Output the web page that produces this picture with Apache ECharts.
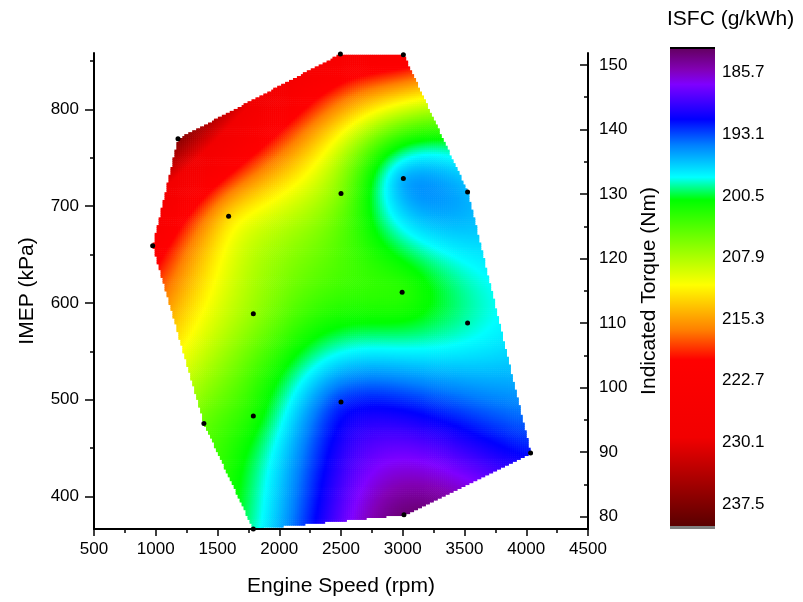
<!DOCTYPE html>
<html>
<head>
<meta charset="utf-8">
<title>ISFC map</title>
<script src="https://cdn.jsdelivr.net/npm/echarts@6/dist/echarts.min.js"></script>
<style>
  html, body { margin: 0; padding: 0; background: #fff; }
  #chart { width: 803px; height: 602px; }
</style>
</head>
<body>
<div id="chart"></div>
<script>
// Measured operating points: engine speed, IMEP and indicated specific fuel consumption
const speedRpm = [1180, 2495, 3005, 1590, 2500, 3005, 3525, 975, 1790, 2995, 3525, 1790, 1390, 2500, 4035, 3010, 1790];
const imepKpa  = [769.6, 857.2, 856.5, 689.5, 713.1, 728.5, 714.5, 659.0, 588.9, 611.0, 579.3, 483.2, 475.3, 497.5, 444.8, 381.1, 366.4];
const isfcGkWh = [237.0, 226.0, 223.5, 213.0, 206.0, 196.0, 196.0, 223.0, 207.0, 202.5, 199.0, 202.0, 205.0, 192.5, 191.5, 183.5, 199.0];

// Axis ticks
const speedTicks = [500, 1000, 1500, 2000, 2500, 3000, 3500, 4000, 4500];
const imepTicks = [400, 500, 600, 700, 800];
const imepMinorTicks = [450, 550, 650, 750, 850];
const torqueTicks = [80, 90, 100, 110, 120, 130, 140, 150];
const torqueMinorTicks = [85, 95, 105, 115, 125, 135, 145];
const scaleLabels = [185.7, 193.1, 200.5, 207.9, 215.3, 222.7, 230.1, 237.5];

// Colour scale range and palette stops (value, colour)
const scaleMin = 182.85, scaleMax = 240.15;
const paletteValues = [182.85, 185.3, 187.1, 191.3, 194.4, 198.25, 201.0, 211.2, 216.6, 220.2, 229.5, 240.15];
const paletteColors = ['#640064', '#8200b4', '#7f00ff', '#0000ff', '#0080ff', '#00ffff', '#00ff00', '#ffff00', '#ff8000', '#ff0000', '#f20000', '#5a0000'];

const FONT = "'Liberation Sans', Arial, Helvetica, sans-serif";

function hexToRgb(h) {
  return [parseInt(h.slice(1, 3), 16), parseInt(h.slice(3, 5), 16), parseInt(h.slice(5, 7), 16)];
}
const paletteRgb = paletteColors.map(hexToRgb);

function colorAt(v) {
  if (v <= paletteValues[0]) return paletteColors[0];
  const n = paletteValues.length;
  if (v >= paletteValues[n - 1]) return paletteColors[n - 1];
  let i = 0;
  while (v > paletteValues[i + 1]) i++;
  const t = (v - paletteValues[i]) / (paletteValues[i + 1] - paletteValues[i]);
  const a = paletteRgb[i], b = paletteRgb[i + 1];
  const c = [0, 1, 2].map(k => Math.round(a[k] + (b[k] - a[k]) * t));
  return 'rgb(' + c.join(',') + ')';
}

// Thin-plate spline surface through the measured points (scaled so both axes use similar units)
const SX = 0.0012311, SY = 0.00974;
function tpsKernel(r2) { return r2 <= 0 ? 0 : 0.5 * r2 * Math.log(r2); }

function solve(A, b) {
  const n = b.length;
  const M = A.map((row, i) => row.concat([b[i]]));
  for (let c = 0; c < n; c++) {
    let p = c;
    for (let r = c + 1; r < n; r++) if (Math.abs(M[r][c]) > Math.abs(M[p][c])) p = r;
    [M[c], M[p]] = [M[p], M[c]];
    for (let r = 0; r < n; r++) {
      if (r === c) continue;
      const f = M[r][c] / M[c][c];
      for (let k = c; k <= n; k++) M[r][k] -= f * M[c][k];
    }
  }
  return M.map((row, i) => row[n] / row[i]);
}

function buildSurface() {
  const n = speedRpm.length;
  const u = speedRpm.map(x => x * SX), w = imepKpa.map(y => y * SY);
  const N = n + 3;
  const A = [], rhs = [];
  for (let i = 0; i < N; i++) { A.push(new Array(N).fill(0)); rhs.push(0); }
  for (let i = 0; i < n; i++) {
    for (let j = 0; j < n; j++) {
      const dx = u[i] - u[j], dy = w[i] - w[j];
      A[i][j] = tpsKernel(dx * dx + dy * dy);
    }
    A[i][n] = 1; A[i][n + 1] = u[i]; A[i][n + 2] = w[i];
    A[n][i] = 1; A[n + 1][i] = u[i]; A[n + 2][i] = w[i];
    rhs[i] = isfcGkWh[i];
  }
  const coef = solve(A, rhs);
  return function (x, y) {
    const px = x * SX, py = y * SY;
    let s = coef[n] + coef[n + 1] * px + coef[n + 2] * py;
    for (let i = 0; i < n; i++) {
      const dx = px - u[i], dy = py - w[i];
      s += coef[i] * tpsKernel(dx * dx + dy * dy);
    }
    return s;
  };
}

// Convex hull of the measured points (monotone chain), in screen-proportional units
function hullOf(points) {
  const pts = points.slice().sort((a, b) => a[0] - b[0] || a[1] - b[1]);
  const cross = (o, a, b) => (a[0] - o[0]) * (b[1] - o[1]) - (a[1] - o[1]) * (b[0] - o[0]);
  const lower = [], upper = [];
  for (const p of pts) {
    while (lower.length >= 2 && cross(lower[lower.length - 2], lower[lower.length - 1], p) <= 0) lower.pop();
    lower.push(p);
  }
  for (let i = pts.length - 1; i >= 0; i--) {
    const p = pts[i];
    while (upper.length >= 2 && cross(upper[upper.length - 2], upper[upper.length - 1], p) <= 0) upper.pop();
    upper.push(p);
  }
  upper.pop(); lower.pop();
  return lower.concat(upper);
}
function insideHull(hull, p) {
  for (let i = 0; i < hull.length; i++) {
    const a = hull[i], b = hull[(i + 1) % hull.length];
    if ((b[0] - a[0]) * (p[1] - a[1]) - (b[1] - a[1]) * (p[0] - a[0]) < -1e-9) return false;
  }
  return true;
}

const surface = buildSurface();
const hull = hullOf(speedRpm.map((x, i) => [x * SX, imepKpa[i] * SY]));

// Surface cells on a fine grid clipped to the measured region
const DX = 16, DY = 2;
const cells = [];
const xLo = Math.min(...speedRpm), xHi = Math.max(...speedRpm);
const yLo = Math.min(...imepKpa), yHi = Math.max(...imepKpa);
for (let x = xLo + DX / 2; x < xHi; x += DX) {
  for (let y = yLo + DY / 2; y < yHi; y += DY) {
    if (insideHull(hull, [x * SX, y * SY])) cells.push([x, y, surface(x, y)]);
  }
}

const points = speedRpm.map((x, i) => [x, imepKpa[i], isfcGkWh[i]]);

const axisLine = { show: true, lineStyle: { color: '#000', width: 2 } };
const tickStyle = { color: '#000', width: 1.5 };
const labelStyle = { color: '#000', fontSize: 17, fontFamily: FONT, formatter: v => String(v) };
const nameStyle = { color: '#000', fontSize: 21, fontFamily: FONT };

const chart = echarts.init(document.getElementById('chart'), null, { renderer: 'canvas' });
chart.setOption({
  animation: false,
  backgroundColor: '#fff',
  title: {
    text: 'ISFC (g/kWh)', left: 667, top: 9, padding: 0,
    textStyle: { color: '#000', fontSize: 21, fontWeight: 'normal', fontFamily: FONT }
  },
  grid: [
    { left: 94, right: 215, top: 53, bottom: 70 },
    { left: 670, top: 49, width: 45, height: 477 }
  ],
  xAxis: [
    {
      gridIndex: 0, type: 'value', min: 500, max: 4500, interval: 500, z: 10,
      name: 'Engine Speed (rpm)', nameLocation: 'middle', nameGap: 47, nameTextStyle: nameStyle,
      axisLine: axisLine,
      axisTick: { show: true, length: 7, lineStyle: tickStyle },
      minorTick: { show: true, splitNumber: 2, length: 4, lineStyle: tickStyle },
      axisLabel: Object.assign({ margin: 12, customValues: speedTicks }, labelStyle),
      splitLine: { show: false }
    },
    { gridIndex: 1, type: 'value', min: 0, max: 1, show: false }
  ],
  yAxis: [
    {
      gridIndex: 0, type: 'value', min: 366.4, max: 858.2, position: 'left', z: 10,
      name: 'IMEP (kPa)', nameLocation: 'middle', nameGap: 56, nameRotate: 90, nameTextStyle: nameStyle,
      axisLine: axisLine,
      axisTick: { show: true, length: 9, lineStyle: tickStyle, customValues: imepTicks },
      axisLabel: Object.assign({ margin: 15, customValues: imepTicks }, labelStyle),
      splitLine: { show: false }
    },
    {
      gridIndex: 0, type: 'value', min: 78.11, max: 151.85, position: 'right', z: 10,
      name: 'Indicated Torque (Nm)', nameLocation: 'middle', nameGap: 50, nameRotate: 90, nameTextStyle: nameStyle,
      axisLine: axisLine,
      axisTick: { show: true, inside: true, length: 8, lineStyle: tickStyle, customValues: torqueTicks },
      axisLabel: Object.assign({ margin: 11, customValues: torqueTicks }, labelStyle),
      splitLine: { show: false }
    },
    {
      gridIndex: 1, type: 'value', min: scaleMin, max: scaleMax, inverse: true, position: 'right',
      axisLine: { show: false }, axisTick: { show: false },
      axisLabel: Object.assign({ margin: 7, customValues: scaleLabels }, labelStyle),
      splitLine: { show: false }
    },
    {
      gridIndex: 0, type: 'value', min: 366.4, max: 858.2, position: 'left', z: 10,
      axisLine: { show: false },
      axisTick: { show: true, length: 4, lineStyle: tickStyle, customValues: imepMinorTicks },
      axisLabel: { show: false }, splitLine: { show: false }
    },
    {
      gridIndex: 0, type: 'value', min: 78.11, max: 151.85, position: 'right', z: 10,
      axisLine: { show: false },
      axisTick: { show: true, inside: true, length: 4, lineStyle: tickStyle, customValues: torqueMinorTicks },
      axisLabel: { show: false }, splitLine: { show: false }
    }
  ],
  series: [
    {
      type: 'custom', name: 'ISFC surface', xAxisIndex: 0, yAxisIndex: 0, z: 1, silent: true,
      progressive: 0, progressiveThreshold: 1e7,
      data: cells,
      renderItem: function (params, api) {
        const x = api.value(0), y = api.value(1);
        const p0 = api.coord([x - DX / 2, y + DY / 2]);
        const p1 = api.coord([x + DX / 2, y - DY / 2]);
        return {
          type: 'rect',
          shape: { x: p0[0], y: p0[1], width: p1[0] - p0[0] + 0.6, height: p1[1] - p0[1] + 0.6 },
          style: { fill: colorAt(api.value(2)) }
        };
      }
    },
    {
      type: 'scatter', name: 'Measured points', xAxisIndex: 0, yAxisIndex: 0, z: 5,
      symbol: 'circle', symbolSize: 5, itemStyle: { color: '#000', opacity: 1 },
      data: points
    },
    {
      type: 'custom', name: 'Colour scale', xAxisIndex: 1, yAxisIndex: 2, silent: true,
      data: [[0, scaleMin, scaleMax]],
      renderItem: function (params, api) {
        const top = api.coord([0, api.value(1)]);
        const bottom = api.coord([1, api.value(2)]);
        const stops = paletteValues.map((v, i) => ({
          offset: (v - scaleMin) / (scaleMax - scaleMin), color: paletteColors[i]
        }));
        return {
          type: 'group',
          children: [
            {
              type: 'rect',
              shape: { x: top[0], y: top[1], width: bottom[0] - top[0], height: bottom[1] - top[1] },
              style: { fill: new echarts.graphic.LinearGradient(0, 0, 0, 1, stops) }
            },
            { type: 'rect', shape: { x: top[0], y: top[1] - 2, width: bottom[0] - top[0], height: 2 }, style: { fill: '#000' } },
            { type: 'rect', shape: { x: top[0], y: bottom[1], width: bottom[0] - top[0], height: 3 }, style: { fill: '#808080' } }
          ]
        };
      }
    }
  ]
});
</script>
</body>
</html>
